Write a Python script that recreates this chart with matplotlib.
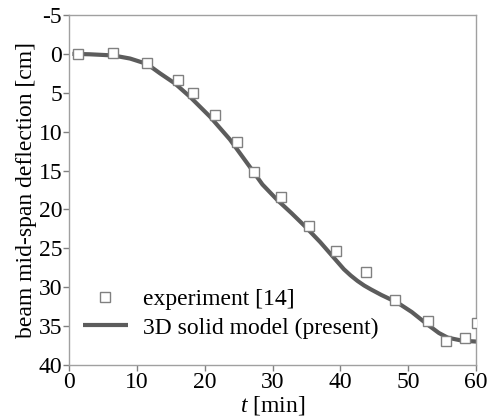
import matplotlib
matplotlib.use("Agg")
import matplotlib.pyplot as plt

plt.rcParams["font.family"] = ["Liberation Serif", "DejaVu Serif"]
plt.rcParams["mathtext.fontset"] = "custom"
plt.rcParams["mathtext.rm"] = "Liberation Serif"
plt.rcParams["mathtext.it"] = "Liberation Serif:italic"
plt.rcParams["axes.unicode_minus"] = False

# experiment [14]
exp_t = [1.3, 6.5, 11.5, 16.1, 18.3, 21.5, 24.8, 27.3, 31.3, 35.3, 39.4, 43.7, 48.1, 52.9, 55.6, 58.4, 60.1]
exp_d = [0.0, -0.1, 1.2, 3.3, 5.0, 7.8, 11.3, 15.2, 18.4, 22.1, 25.4, 28.1, 31.7, 34.4, 36.9, 36.5, 34.6]

# 3D solid model (present)
mod_t = [0.5, 3, 6.5, 9, 11.5, 13.4, 15.6, 17.8, 20.8, 23.7, 26.7, 28.5, 30.7, 32.8, 34.8, 37.0,
         38.9, 39.7, 40.5, 41.5, 42.5, 43.5, 44.5, 46.0, 48.4, 50.5, 52.8, 54.5, 55.8, 58.0, 60.0]
mod_d = [0.0, 0.05, 0.2, 0.6, 1.3, 2.5, 3.8, 5.5, 8.1, 11.0, 14.6, 16.8, 18.8, 20.5, 22.2, 24.2,
         26.1, 26.9, 27.7, 28.5, 29.2, 29.8, 30.3, 31.0, 32.0, 33.2, 34.8, 35.9, 36.5, 36.9, 37.0]

x_ticks = [0, 10, 20, 30, 40, 50, 60]
y_ticks = [-5, 0, 5, 10, 15, 20, 25, 30, 35, 40]

fig = plt.figure(figsize=(4.93, 4.17), dpi=100)
ax = fig.add_axes([0.140, 0.125, 0.826, 0.839])

ax.plot(mod_t, mod_d, color="#5c5c5c", linewidth=3.0, solid_capstyle="butt",
        label="3D solid model (present)", zorder=2)
ax.plot(exp_t, exp_d, linestyle="none", marker="s", markersize=6.5,
        markerfacecolor="white", markeredgecolor="#808080", markeredgewidth=1.0,
        label="experiment [14]", zorder=3)

ax.set_xlim(0, 60)
ax.set_ylim(40, -5)
ax.set_xticks(x_ticks)
ax.set_yticks(y_ticks)
ax.tick_params(direction="out", length=4, width=1, color="#808080",
               labelsize=17, pad=1)
for s in ax.spines.values():
    s.set_color("#a0a0a0")
    s.set_linewidth(1.0)

ax.set_xlabel("$t$ [min]", fontsize=17, labelpad=1)
ax.set_ylabel("beam mid-span deflection [cm]", fontsize=17, labelpad=1)

handles, labels = ax.get_legend_handles_labels()
ax.legend(handles[::-1], labels[::-1], loc="lower left", frameon=False,
          fontsize=17, handlelength=1.9, handletextpad=0.65,
          labelspacing=0.3, borderpad=0, borderaxespad=0,
          bbox_to_anchor=(0.034, 0.075))

fig.savefig("out.png", dpi=100)
